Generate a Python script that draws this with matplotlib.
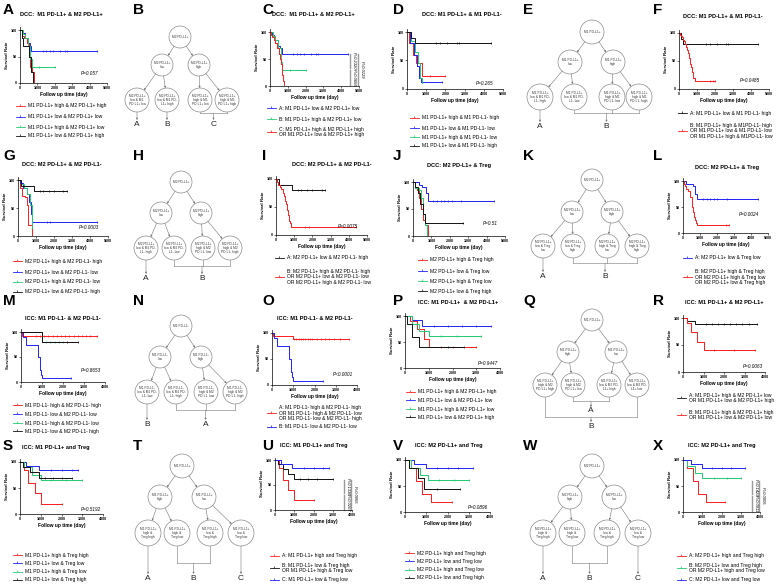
import numpy as np
import matplotlib.pyplot as plt
from matplotlib.patches import Circle

plt.rcParams['font.family'] = ['Liberation Sans', 'DejaVu Sans']

W, H = 784, 588
RED, BLUE, GREEN, BLACK = '#ff1a1a', '#2020ff', '#1fcc70', '#111111'

# ---------------- data ----------------
A_t = [[0, 100, 250, 400, 500, 600, 700, 780], [0, 100, 300, 450, 550, 650],
       [0, 150, 300, 450, 600, 700], [0, 100, 200, 500, 650, 740]]
A_s = [[100, 88, 85, 75, 50, 30, 20, 0], [100, 95, 85, 75, 70, 60],
       [100, 92, 85, 70, 45, 30], [100, 85, 70, 50, 20, 0]]
A_end = [800, 4400, 2000, 760]
A_cens = [[], [1300, 1500, 1700, 1900, 2300, 2600, 2700, 4400], [1100, 2000], []]
A_leg = ['M1 PD-L1+ high & M2 PD-L1+ high', 'M1 PD-L1+ low & M2 PD-L1+ low',
         'M1 PD-L1+ high & M2 PD-L1+ low', 'M1 PD-L1+ low & M2 PD-L1+ high']
A_p = 'P=0.057'

C_t = [[0, 100, 200, 300, 450, 550, 650], [0, 150, 300, 450, 600, 700],
       [0, 50, 100, 200, 300, 400, 500, 550, 600, 650, 700, 750, 800]]
C_s = [[100, 95, 90, 85, 75, 70, 60], [100, 92, 85, 70, 45, 30],
       [100, 95, 90, 85, 80, 70, 60, 50, 40, 30, 20, 10, 0]]
C_end = [4400, 2000, 820]
C_cens = [[1300, 1500, 1700, 1900, 2300, 2600, 2700, 4400], [1100, 2000], []]
C_leg = ['A: M1 PD-L1+ low & M2 PD-L1+ low', 'B: M1 PD-L1+ high & M2 PD-L1+ low',
         'C: M1 PD-L1+ high & M2 PD-L1+ high\nOR M1 PD-L1+ low & M2 PD-L1+ high']
C_pv = ['P=0.2320', 'P=0.0655', 'P=0.0129']

D_t = [[0, 100, 300, 450, 800], [0, 150, 350, 500, 650, 750],
       [0, 200, 400, 550, 700, 800], [0, 200, 400]]
D_s = [[100, 80, 60, 45, 22], [100, 80, 60, 40, 20, 12],
       [100, 85, 65, 45, 20, 10], [100, 90, 80]]
D_end = [2000, 1800, 800, 4400]
D_cens = [[1200, 2000], [1800], [], [1500, 1700, 2100, 2600, 2700, 4400]]
D_leg = ['M1 PD-L1+ high & M1 PD-L1- high', 'M1 PD-L1+ low & M1 PD-L1- low',
         'M1 PD-L1+ high & M1 PD-L1- low', 'M1 PD-L1+ low & M1 PD-L1- high']
D_p = 'P=0.265'

F_t = [[0, 100, 200],
       [0, 50, 100, 150, 200, 300, 350, 400, 450, 500, 550, 600, 650, 700, 750, 800, 900]]
F_s = [[100, 90, 80],
       [100, 97, 95, 92, 88, 85, 80, 75, 70, 65, 55, 45, 40, 30, 25, 20, 15]]
F_end = [4400, 2000]
F_cens = [[1500, 1700, 2100, 2600, 2700, 4400], [1700, 1900, 2000]]
F_leg = ['A: M1 PD-L1+ low & M1 PD-L1- high',
         'B: M1 PD-L1+ high & M1PD-L1- high\nOR M1 PD-L1+ low & M1 PD-L1- low\nOR M1 PD-L1+ high & M1PD-L1- low']
F_p = 'P=0.0485'

G_t = [[0, 100, 200, 400, 500, 550, 800], [0, 100, 300, 500, 600, 700, 750],
       [0, 150, 350, 500, 650, 750, 800], [0, 150, 900]]
G_s = [[100, 85, 72, 70, 55, 20, 0], [100, 95, 85, 75, 60, 40, 25],
       [100, 92, 85, 75, 55, 35, 15], [100, 90, 80]]
G_end = [820, 4400, 800, 2700]
G_cens = [[], [1600, 1800, 4400], [], [1200, 1400, 1700, 2000, 2500, 2700]]
G_leg = ['M2 PD-L1+ high & M2 PD-L1- high', 'M2 PD-L1+ low & M2 PD-L1- low',
         'M2 PD-L1+ high & M2 PD-L1- low', 'M2 PD-L1+ low & M2 PD-L1- high']
G_p = 'P=0.0003'

I_t = [[0, 150, 900],
       [0, 50, 100, 200, 300, 400, 450, 500, 550, 600, 650, 700, 750, 800, 850]]
I_s = [[100, 90, 80],
       [100, 95, 90, 85, 82, 75, 70, 60, 55, 45, 35, 25, 22, 20, 15]]
I_end = [2700, 4400]
I_cens = [[1200, 1400, 1700, 2000, 2500, 2700], [1600, 1800, 4400]]
I_leg = ['A: M2 PD-L1+ low & M2 PD-L1- high',
         'B: M2 PD-L1+ high & M2 PD-L1- high\nOR M2 PD-L1+ low & M2 PD-L1- low\nOR M2 PD-L1+ high & M2 PD-L1- low']
I_p = 'P=0.0075'

J_t = [[0, 100, 200, 350, 450, 550, 650, 800], [0, 300, 500, 700, 800],
       [0, 100, 300, 450, 550, 650, 750], [0, 100, 250, 400, 550, 650]]
J_s = [[100, 90, 85, 70, 50, 30, 20, 0], [100, 95, 90, 80, 65],
       [100, 88, 86, 70, 40, 20, 0], [100, 90, 80, 60, 40, 25]]
J_end = [820, 4400, 780, 2700]
J_cens = [[], [1100, 1300, 1500, 1700, 1900, 2100, 2600, 4400], [], [2700]]
J_leg = ['M2 PD-L1+ high & Treg high', 'M2 PD-L1+ low & Treg low',
         'M2 PD-L1+ high & Treg low', 'M2 PD-L1+ low & Treg high']
J_p = 'P=0.51'

L_t = [[0, 200, 600, 700, 800],
       [0, 50, 100, 200, 300, 400, 500, 550, 600, 650, 700, 750, 800]]
L_s = [[100, 95, 90, 75, 65],
       [100, 95, 90, 85, 80, 70, 60, 50, 40, 30, 25, 20, 15]]
L_end = [4400, 2700]
L_cens = [[1200, 1400, 1600, 1800, 2000, 2600, 4400], [2500, 2700]]
L_leg = ['A: M2 PD-L1+ low & Treg low',
         'B: M2 PD-L1+ high & Treg high\nOR M2 PD-L1+ high & Treg low\nOR M2 PD-L1+ low & Treg high']
L_p = 'P=0.0024'

M_t = [[0, 50], [0, 100, 250, 800, 900, 950, 1000], [0, 1000], [0, 1000]]
M_s = [[100, 93], [100, 90, 75, 50, 25, 15, 8], [100, 80], [100, 80]]
M_end = [3600, 2400, 2000, 2700]
M_cens = [[700, 900, 1100, 1300, 1500, 1700, 1900, 2100, 2300, 2500, 2700, 2900, 3100, 3300, 3600],
          [2400], [1200, 1400, 1600, 1800, 2000], [2200, 2700]]
M_leg = ['M1 PD-L1- high & M2 PD-L1- high', 'M1 PD-L1- low & M2 PD-L1- low',
         'M1 PD-L1- high & M2 PD-L1- low', 'M1 PD-L1- low & M2 PD-L1- high']
M_p = 'P=0.8653'

O_t = [[0, 50, 1000], [0, 100, 250, 800, 900, 950, 1000]]
O_s = [[100, 95, 88], [100, 90, 75, 50, 25, 15, 8]]
O_end = [3600, 2400]
O_cens = [[1050, 1150, 1250, 1350, 1450, 1550, 1700, 1800, 1900, 2100, 2300, 2500, 2700, 2900, 3200, 3600],
          [2400]]
O_leg = ['A: M1 PD-L1- high & M2 PD-L1- high\nOR M1 PD-L1- high & M2 PD-L1- low\nOR M1 PD-L1- low & M2 PD-L1- high',
         'B: M1 PD-L1- low & M2 PD-L1- low']
O_p = 'P<0.0001'

P_t = [[0, 200, 500, 800, 1000], [0, 300, 700], [0, 300, 600, 1000], [0, 100, 300, 600]]
P_s = [[100, 90, 75, 55, 40], [100, 92, 80], [100, 85, 72, 62], [100, 85, 60, 40]]
P_end = [3000, 3600, 3200, 2500]
P_cens = [[1500, 2000, 3000], [1200, 1800, 2400, 3000, 3600], [1500, 2200, 3200], [1800, 2500]]
P_leg = ['M1 PD-L1+ high & M2 PD-L1+ high', 'M1 PD-L1+ low & M2 PD-L1+ low',
         'M1 PD-L1+ high & M2 PD-L1+ low', 'M1 PD-L1+ low & M2 PD-L1+ high']
P_p = 'P=0.9447'

R_t = [[0, 200, 600], [0, 200, 400, 700, 1000]]
R_s = [[100, 95, 88], [100, 90, 75, 55, 40]]
R_end = [3600, 3500]
R_cens = [[1100, 1400, 1700, 2000, 2300, 2600, 2900, 3200, 3600], [1500, 2500, 3500]]
R_leg = ['A: M1 PD-L1+ high & M2 PD-L1+ low\nOR M1 PD-L1+ low & M2 PD-L1+ high',
         'B: M1 PD-L1+ high & M2 PD-L1+ high\nOR M1 PD-L1+ low & M2 PD-L1+ low']
R_p = 'P=0.0063'

S_t = [[0, 200, 400, 700, 1000], [0, 300, 900], [0, 200, 600, 1000], [0, 150, 500, 900]]
S_s = [[100, 85, 60, 40, 20], [100, 92, 85], [100, 90, 75, 65], [100, 90, 80, 70]]
S_end = [2000, 2800, 3000, 2500]
S_cens = [[2000], [1500, 2000, 2500, 2800], [1500, 2200, 3000], [1200, 1600, 2000, 2500]]
S_leg = ['M1 PD-L1+ high & Treg high', 'M1 PD-L1+ low & Treg low',
         'M1 PD-L1+ high & Treg low', 'M1 PD-L1+ low & Treg high']
S_p = 'P=0.5192'

U_t = [[0, 200, 400, 700, 1000], [0, 150, 400, 700, 1000], [0, 300, 900]]
U_s = [[100, 85, 60, 40, 20], [100, 92, 82, 72, 62], [100, 92, 85]]
U_end = [2000, 3000, 2800]
U_cens = [[2000], [1300, 1700, 2200, 3000], [1500, 2000, 2500, 2800]]
U_leg = ['A: M1 PD-L1+ high and Treg high',
         'B: M1 PD-L1+ low & Treg high\nOR M1 PD-L1+ high & Treg low',
         'C: M1 PD-L1+ low & Treg low']
U_pv = ['P=0.1336', 'P=0.0207', 'P=0.0055']

V_t = [[0, 200, 500, 800, 1200], [0, 400, 1000], [0, 300, 700, 1100], [0, 200, 600, 900]]
V_s = [[100, 85, 60, 35, 20], [100, 92, 85], [100, 85, 72, 62], [100, 85, 65, 45]]
V_end = [2200, 3200, 3000, 2600]
V_cens = [[2200], [1500, 2000, 2500, 3200], [1600, 2300, 3000], [1500, 2600]]
V_leg = ['M2 PD-L1+ high and Treg high', 'M2 PD-L1+ low and Treg low',
         'M2 PD-L1+ high and Treg low', 'M2 PD-L1+ low and Treg high']
V_p = 'P=0.0896'

X_t = [[0, 200, 500, 800, 1200], [0, 200, 600, 1000], [0, 400, 1000]]
X_s = [[100, 85, 60, 35, 20], [100, 88, 75, 65], [100, 92, 85]]
X_end = [2200, 3000, 3200]
X_cens = [[2200], [1600, 2300, 3000], [1500, 2000, 2500, 3200]]
X_leg = ['A: M2 PD-L1+ high and Treg high',
         'B: M2 PD-L1+ low and Treg high\nOR M2 PD-L1+ high and Treg low',
         'C: M2 PD-L1+ low and Treg low']
X_pv = ['P=0.1429', 'P=0.0011', 'P=0.0005']

# tree node texts: root, two children, four leaves
B_nodes = ['M2 PD-L1+', 'M2 PD-L1+\nlow', 'M2 PD-L1+\nhigh',
           'M2 PD-L1+\nlow & M1\nPD-L1+ low', 'M2 PD-L1+\nlow & M1 PD-\nL1+ high',
           'M2 PD-L1+\nhigh & M1\nPD-L1+ low', 'M2 PD-L1+\nhigh & M1\nPD-L1+ high']
E_nodes = ['M1 PD-L1+', 'M1 PD-L1+\nlow', 'M1 PD-L1+\nhigh',
           'M1 PD-L1+\nlow & M1 PD-\nL1- high', 'M1 PD-L1+\nlow & M1 PD-\nL1- low',
           'M1 PD-L1+\nhigh & M1\nPD-L1- low', 'M1 PD-L1+\nhigh & M1\nPD-L1- high']
H_nodes = ['M2 PD-L1+', 'M2 PD-L1+\nlow', 'M2 PD-L1+\nhigh',
           'M2 PD-L1+\nlow & M2 PD-\nL1- high', 'M2 PD-L1+\nlow & M2 PD-\nL1- low',
           'M2 PD-L1+\nhigh & M2\nPD-L1- low', 'M2 PD-L1+\nhigh & M2\nPD-L1- high']
K_nodes = ['M2 PD-L1+', 'M2 PD-L1+\nlow', 'M2 PD-L1+\nhigh',
           'M2 PD-L1+\nlow & Treg\nlow', 'M2 PD-L1+\nlow & Treg\nhigh',
           'M2 PD-L1+\nhigh & Treg\nlow', 'M2 PD-L1+\nhigh & Treg\nhigh']
N_nodes = ['M1 PD-L1-', 'M1 PD-L1-\nlow', 'M1 PD-L1-\nhigh',
           'M1 PD-L1-\nlow & M2 PD-\nL1- low', 'M1 PD-L1-\nlow & M2 PD-\nL1- high',
           'M1 PD-L1-\nhigh & M2\nPD-L1- low', 'M1 PD-L1-\nhigh & M2\nPD-L1- high']
Q_nodes = ['M1 PD-L1+', 'M1 PD-L1+\nhigh', 'M1 PD-L1+\nlow',
           'M1 PD-L1+\nhigh & M2\nPD-L1+ high', 'M1 PD-L1+\nhigh & M2\nPD-L1+ low',
           'M1 PD-L1+\nlow & M2 PD-\nL1+ high', 'M1 PD-L1+\nlow & M2 PD-\nL1+ low']
T_nodes = ['M1 PD-L1+', 'M1 PD-L1+\nhigh', 'M1 PD-L1+\nlow',
           'M1 PD-L1+\nhigh &\nTreg high', 'M1 PD-L1+\nhigh &\nTreg low',
           'M1 PD-L1+\nlow &\nTreg high', 'M1 PD-L1+\nlow &\nTreg low']
W_nodes = ['M2 PD-L1+', 'M2 PD-L1+\nhigh', 'M2 PD-L1+\nlow',
           'M2 PD-L1+\nhigh &\nTreg high', 'M2 PD-L1+\nhigh &\nTreg low',
           'M2 PD-L1+\nlow &\nTreg high', 'M2 PD-L1+\nlow &\nTreg low']

# ---------------- drawing ----------------
fig = plt.figure(figsize=(W / 100, H / 100), dpi=100)
ov = fig.add_axes([0, 0, 1, 1])
ov.set_xlim(0, W)
ov.set_ylim(H, 0)
ov.axis('off')


def km(box, xmax, ts, ss, ends, cens, cols):
    l, y100, r, y0 = box
    top = y100 - 0.05 * (y0 - y100)
    ax = fig.add_axes([l / W, 1 - y0 / H, (r - l) / W, (y0 - top) / H])
    ax.patch.set_alpha(0)
    for t, s, e, c, col in zip(ts, ss, ends, cens, cols):
        ax.step(list(t) + [e], list(s) + [s[-1]], where='post', color=col, lw=0.7)
        if c:
            idx = np.searchsorted(t, c, side='right') - 1
            ax.plot(c, np.array(s)[idx], '|', color=col, ms=2, mew=0.5)
    ax.set_xlim(0, xmax)
    ax.set_ylim(0, 105)
    ax.set_xticks(np.arange(0, xmax + 1, 1000))
    ax.set_yticks([0, 50, 100])
    for sp in ['top', 'right']:
        ax.spines[sp].set_visible(False)
    for sp in ['left', 'bottom']:
        ax.spines[sp].set_linewidth(0.5)
    ax.tick_params(length=1.5, width=0.4, labelsize=2.6, pad=0.8)
    for lab in ax.get_xticklabels() + ax.get_yticklabels():
        lab.set_fontweight('bold')
    ax.set_xlabel('Follow up time (day)', fontsize=3.5, fontweight='bold', labelpad=1.5)
    ax.set_ylabel('Survival Rate', fontsize=3.2, fontweight='bold', labelpad=1.5)
    return ax


def pval(ax, txt, x, y):
    ax.text(x, y, txt, ha='right', va='center', fontsize=3.3, style='italic')


def vbars(ax, xmax, txts):
    spec = [(0.9, 60, 34), (0.9, 30, 1), (0.99, 60, 1)]
    for (fx, ya, yb), txt in zip(spec, txts):
        ax.plot([fx * xmax, fx * xmax], [ya, yb], color='#9a9a9a', lw=1.0, clip_on=False)
        ax.text(fx * xmax + 0.025 * xmax, (ya + yb) / 2, txt, rotation=270, ha='left',
                va='center', fontsize=3.0, style='italic', clip_on=False)


def legend(x, ys, cols, texts):
    for y, c, t in zip(ys, cols, texts):
        ov.plot([x, x + 9], [y, y], color=c, lw=0.6)
        ov.plot([x + 4.5], [y], marker=2, color=c, ms=1.6, mew=0.5)
        ov.text(x + 12, y, t, ha='left', va='center', fontsize=3.6, linespacing=1.05)


def title(x, y, txt):
    ov.text(x, y, txt, ha='left', va='center', fontsize=4.1, fontweight='bold')


def arrow(p, q):
    ov.annotate('', xy=q, xytext=p,
                arrowprops=dict(arrowstyle='-|>', lw=0.4, color='#777777',
                                mutation_scale=2.5, shrinkA=0, shrinkB=0))


def tree(root, kids, leaves, texts, groups, rn=11, rl=12):
    pts = [root] + kids + leaves
    rad = [rn, rn, rn, rl, rl, rl, rl]
    for (x, y), r, txt in zip(pts, rad, texts):
        ov.add_patch(Circle((x, y), r, fc='white', ec='#8a8a8a', lw=0.5, zorder=2))
        ov.text(x, y, txt, ha='center', va='center', fontsize=2.3, linespacing=1.1,
                color='#333333', zorder=3)
    for a, b in [(0, 1), (0, 2), (1, 3), (1, 4), (2, 5), (2, 6)]:
        (x1, y1), (x2, y2) = pts[a], pts[b]
        d = np.hypot(x2 - x1, y2 - y1)
        ux, uy = (x2 - x1) / d, (y2 - y1) / d
        arrow((x1 + ux * rad[a], y1 + uy * rad[a]), (x2 - ux * rad[b], y2 - uy * rad[b]))
    for lab, idx, by, ly in groups:
        xs = [leaves[i][0] for i in idx]
        yb = leaves[0][1] + rl
        if len(idx) == 1:
            arrow((xs[0], yb), (xs[0], ly - 4))
            cx = xs[0]
        else:
            for xx in xs:
                ov.plot([xx, xx], [yb, by], color='#777777', lw=0.4)
            ov.plot([min(xs), max(xs)], [by, by], color='#777777', lw=0.4)
            cx = (min(xs) + max(xs)) / 2
            arrow((cx, by), (cx, ly - 4))
        ov.text(cx, ly, lab, ha='center', va='center', fontsize=6, color='#222222')


# panel letters
letters = 'ABCDEFGHIJKLMNOPQRSTUVWX'
lx = [3, 133, 262, 393, 523, 653]
ly = [3, 149, 294, 439]
for i, ch in enumerate(letters):
    ov.text(lx[i % 6], ly[i // 6], ch, ha='left', va='top', fontsize=11, fontweight='bold')

# Row 1
ax = km((20, 30, 107, 83), 5000, A_t, A_s, A_end, A_cens, [RED, BLUE, GREEN, BLACK])
pval(ax, A_p, 4500, 17)
title(20, 14, 'DCC:  M1 PD-L1+ & M2 PD-L1+')
legend(16, [106, 117, 127, 136], [RED, BLUE, GREEN, BLACK], A_leg)

tree((180, 37), [(162, 65), (199, 65)], [(137, 100), (167, 100), (200, 100), (227, 100)],
     B_nodes, [('A', [0], 0, 124), ('B', [1], 0, 124), ('C', [2, 3], 113, 124)])

ax = km((270, 32, 359, 86), 5000, C_t, C_s, C_end, C_cens, [BLUE, GREEN, RED])
vbars(ax, 5000, C_pv)
title(272, 15, 'DCC:  M1 PD-L1+ & M2 PD-L1+')
legend(267, [108, 119, 132], [BLUE, GREEN, RED], C_leg)

ax = km((407, 32, 503, 89), 5000, D_t, D_s, D_end, D_cens, [RED, BLUE, GREEN, BLACK])
pval(ax, D_p, 4500, 10)
title(422, 15, 'DCC: M1 PD-L1+ & M1 PD-L1-')
legend(410, [118, 128, 137, 146], [RED, BLUE, GREEN, BLACK], D_leg)

tree((592, 32), [(570, 62), (613, 62)], [(540, 97), (574, 97), (612, 97), (639, 97)],
     E_nodes, [('A', [0], 0, 126), ('B', [1, 2, 3], 113, 126)], rn=12, rl=13)

ax = km((679, 33, 769, 89), 5000, F_t, F_s, F_end, F_cens, [BLACK, RED])
pval(ax, F_p, 4500, 15)
title(683, 17, 'DCC: M1 PD-L1+ & M1 PD-L1-')
legend(678, [113, 131], [BLACK, RED], F_leg)

# Row 2
ax = km((18, 180, 108, 236), 5000, G_t, G_s, G_end, G_cens, [RED, BLUE, GREEN, BLACK])
pval(ax, G_p, 4500, 15)
title(22, 165, 'DCC: M2 PD-L1+ & M2 PD-L1-')
legend(13, [261, 272, 282, 292], [RED, BLUE, GREEN, BLACK], G_leg)

tree((181, 182), [(161, 213), (201, 213)], [(146, 248), (174, 248), (203, 248), (230, 248)],
     H_nodes, [('A', [0], 0, 278), ('B', [1, 2, 3], 266, 278)])

ax = km((276, 179, 367, 235), 5000, I_t, I_s, I_end, I_cens, [BLACK, RED])
pval(ax, I_p, 4500, 15)
title(292, 164, 'DCC: M2 PD-L1+ & M2 PD-L1-')
legend(275, [258, 277], [BLACK, RED], I_leg)

ax = km((413, 182, 505, 236), 5000, J_t, J_s, J_end, J_cens, [RED, BLUE, GREEN, BLACK])
pval(ax, J_p, 4600, 24)
title(427, 166, 'DCC: M2 PD-L1+ & Treg')
legend(418, [260, 271, 281, 291], [RED, BLUE, GREEN, BLACK], J_leg)

tree((592, 180), [(572, 212), (612, 212)], [(543, 246), (573, 246), (607, 246), (637, 246)],
     K_nodes, [('A', [0], 0, 276), ('B', [1, 2, 3], 263, 276)])

ax = km((683, 181, 768, 233), 5000, L_t, L_s, L_end, L_cens, [BLUE, RED])
pval(ax, L_p, 4500, 35)
title(695, 167, 'DCC: M2 PD-L1+ & Treg')
legend(683, [258, 277], [BLUE, RED], L_leg)

# Row 3
ax = km((21, 332, 105, 382), 4000, M_t, M_s, M_end, M_cens, [RED, BLUE, GREEN, BLACK])
pval(ax, M_p, 3800, 22)
title(25, 318, 'ICC: M1 PD-L1- & M2 PD-L1-')
legend(13, [405, 414, 423, 431], [RED, BLUE, GREEN, BLACK], M_leg)

tree((181, 326), [(160, 357), (201, 357)], [(147, 392), (176, 392), (206, 392), (235, 392)],
     N_nodes, [('B', [0], 0, 424), ('A', [1, 2, 3], 410, 424)])

ax = km((272, 333, 357, 385), 4000, O_t, O_s, O_end, O_cens, [RED, BLUE])
pval(ax, O_p, 3800, 20)
title(277, 319, 'ICC: M1 PD-L1- & M2 PD-L1-')
legend(267, [413, 427], [RED, BLUE], O_leg)

ax = km((405, 316, 500, 368), 4000, P_t, P_s, P_end, P_cens, [RED, BLUE, GREEN, BLACK])
pval(ax, P_p, 3900, 8)
title(418, 303, 'ICC: M1 PD-L1+  & M2 PD-L1+')
legend(406, [392, 400, 409, 417], [RED, BLUE, GREEN, BLACK], P_leg)

tree((592, 320), [(568, 352), (616, 352)], [(545, 385), (573, 385), (609, 385), (637, 385)],
     Q_nodes, [('A', [1, 2], 401, 411), ('B', [0, 3], 417, 426)])

ax = km((683, 318, 765, 372), 4000, R_t, R_s, R_end, R_cens, [BLACK, RED])
pval(ax, R_p, 3900, 10)
title(685, 302, 'ICC: M1 PD-L1+ & M2 PD-L1+')
legend(677, [398, 415], [BLACK, RED], R_leg)

# Row 4
ax = km((20, 462, 103, 514), 4000, S_t, S_s, S_end, S_cens, [RED, BLUE, GREEN, BLACK])
pval(ax, S_p, 3900, 8)
title(22, 448, 'ICC: M1 PD-L1+ and Treg')
legend(13, [555, 563, 572, 580], [RED, BLUE, GREEN, BLACK], S_leg)

tree((182, 466), [(160, 497), (204, 497)], [(148, 533), (177, 533), (210, 533), (241, 533)],
     T_nodes, [('A', [0], 0, 578), ('B', [1, 2], 563, 578), ('C', [3], 0, 578)], rn=12, rl=13)

ax = km((275, 460, 352, 510), 4000, U_t, U_s, U_end, U_cens, [RED, BLACK, BLUE])
vbars(ax, 4000, U_pv)
title(280, 446, 'ICC: M1 PD-L1+ and Treg')
legend(270, [556, 568, 580], [RED, BLACK, BLUE], U_leg)

ax = km((405, 460, 490, 512), 4000, V_t, V_s, V_end, V_cens, [RED, BLUE, GREEN, BLACK])
pval(ax, V_p, 3900, 8)
title(415, 446, 'ICC: M2 PD-L1+ and Treg')
legend(405, [553, 561, 570, 578], [RED, BLUE, GREEN, BLACK], V_leg)

tree((592, 466), [(570, 497), (614, 497)], [(543, 533), (572, 533), (607, 533), (638, 533)],
     W_nodes, [('A', [0], 0, 578), ('B', [1, 2], 563, 578), ('C', [3], 0, 578)], rn=12, rl=13)

ax = km((683, 460, 760, 512), 4000, X_t, X_s, X_end, X_cens, [RED, GREEN, BLUE])
vbars(ax, 4000, X_pv)
title(688, 446, 'ICC: M2 PD-L1+ and Treg')
legend(677, [556, 568, 580], [RED, GREEN, BLUE], X_leg)

fig.savefig('out.png', dpi=100)
